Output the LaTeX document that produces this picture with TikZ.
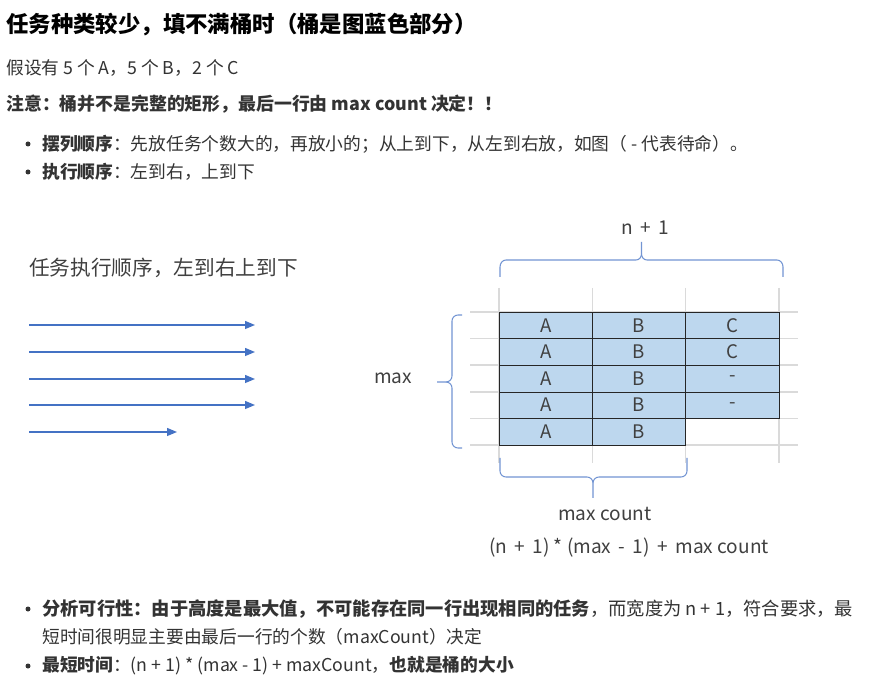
\documentclass[tikz,border=0pt]{standalone}
\usepackage{fontspec}
\setmainfont{Noto Sans CJK SC}
\usetikzlibrary{arrows.meta}
\definecolor{bucketblue}{HTML}{BDD7EE}
\definecolor{runblue}{HTML}{4472C4}
\definecolor{gridgray}{HTML}{DADADA}
\definecolor{inkgray}{HTML}{404040}
\newcommand{\pxsize}[1]{\fontsize{#1}{#1}\selectfont}

\begin{document}
\begin{tikzpicture}[x=0.75pt,y=-0.75pt,
  line/.style={anchor=west,inner sep=0pt,text=black!80,font=\pxsize{13.3pt}},
  cell/.style={draw=black!85,fill=bucketblue,minimum width=70pt,minimum height=19.95pt,
    inner sep=0pt,font=\pxsize{14pt},text=inkgray},
  lbl/.style={inner sep=0pt,font=\pxsize{14.3pt},text=inkgray},
  run/.style={runblue,line width=0.9pt,-{Triangle[length=7.5pt,width=6pt]}},
  brace/.style={runblue!75,line width=0.8pt}]
  \path[use as bounding box,fill=white] (0,0) rectangle (872,684);
  % heading and notes
  \node[line,text=black,font=\pxsize{16.8pt}\bfseries] (title) at (6,25)
    {任务种类较少，填不满桶时（桶是图蓝色部分）};
  \node[line] (given) at (6,68) {假设有 5 个 A，5 个 B，2 个 C};
  \node[line,font=\pxsize{13.4pt}\bfseries] (note) at (6,104)
    {注意：桶并不是完整的矩形，最后一行由 max count 决定！！};
  \foreach \y in {144,172,609,666}
    \fill[black!80] (28,\y) circle (2.5);
  \node[line] (order) at (42,144)
    {{\bfseries 摆列顺序}：先放任务个数大的，再放小的；从上到下，从左到右放，如图（ - 代表待命）。};
  \node[line] (exec) at (42,172)
    {{\bfseries 执行顺序}：左到右，上到下};
  % execution order, left side
  \node[line,text=inkgray,font=\pxsize{15.5pt}] (runcap) at (29,268) {任务执行顺序，左到右上到下};
  \foreach \i/\y/\len in {1/325/255,2/352/255,3/379/255,4/405/255,5/432/177} {
    \coordinate (run\i-a) at (29,\y);
    \coordinate (run\i-b) at (\len,\y);
    \draw[run] (run\i-a) -- (run\i-b);
  }
  % sheet grid behind the bucket
  \foreach \y in {312,338.6,365.2,391.8,418.4,445}
    \draw[gridgray,line width=1.1pt] (470,\y) -- (798,\y);
  \foreach \x in {499,592.3,685.7,779}
    \draw[gridgray,line width=1.1pt] (\x,288) -- (\x,463);
  % bucket cells
  \foreach \r/\last in {1/C,2/C,3/-,4/-} {
    \node[cell] (cell\r-1) at (545.7,{312+26.6*(\r-0.5)}) {A};
    \node[cell] (cell\r-2) at (639,{312+26.6*(\r-0.5)}) {B};
    \node[cell] (cell\r-3) at (732.3,{312+26.6*(\r-0.5)}) {\last};
  }
  \node[cell] (cell5-1) at (545.7,431.7) {A};
  \node[cell] (cell5-2) at (639,431.7) {B};
  % braces and sizes
  \draw[brace] (500,277) -- (500,267) to[out=90,in=180] (506,260) -- (636,260)
    to[out=0,in=270] (641.5,254) -- (641.5,242);
  \draw[brace] (641.5,254) to[out=270,in=180] (647,260) -- (777,260)
    to[out=0,in=90] (783,267) -- (783,277);
  \node[lbl] (width) at (645,228) {n \,+\, 1};
  \draw[brace] (462,315) -- (458,315) to[out=180,in=90] (452,321) -- (452,376)
    to[out=270,in=0] (446,382) -- (437,382);
  \draw[brace] (446,382) to[out=0,in=90] (452,388) -- (452,442)
    to[out=270,in=180] (458,448) -- (462,448);
  \node[lbl] (height) at (393,378) {max};
  \draw[brace] (500,458) -- (500,471) to[out=270,in=180] (506,477) -- (587,477)
    to[out=0,in=90] (593,483) -- (593,498);
  \draw[brace] (593,483) to[out=90,in=180] (599,477) -- (681,477)
    to[out=0,in=270] (687,471) -- (687,458);
  \node[lbl] (lastrow) at (605,514) {max count};
  \node[lbl] (formula) at (629,548) {(n \,+\, 1) * (max \,-\, 1) \,+\, max count};
  % conclusions
  \node[line,font=\pxsize{13.7pt}] (check) at (42,609)
    {{\bfseries 分析可行性：由于高度是最大值，不可能存在同一行出现相同的任务}，而宽度为 n + 1，符合要求，最};
  \node[line] (check2) at (42,637)
    {短时间很明显主要由最后一行的个数（maxCount）决定};
  \node[line] (minimum) at (42,666)
    {{\bfseries 最短时间}：(n + 1) * (max - 1) + maxCount，{\bfseries 也就是桶的大小}};
\end{tikzpicture}
\end{document}
